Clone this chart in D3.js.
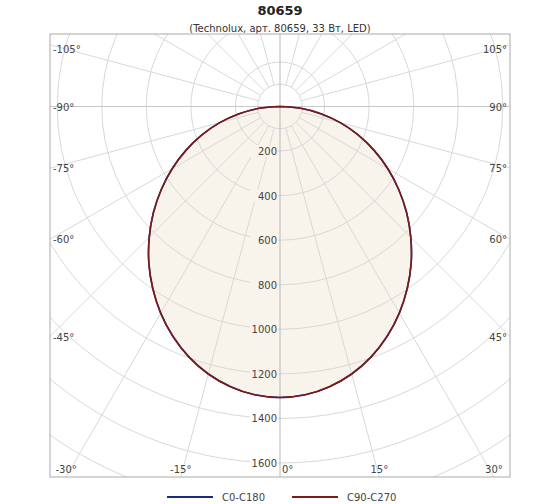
<!DOCTYPE html>
<html>
<head>
<meta charset="utf-8">
<script src="https://cdn.jsdelivr.net/npm/d3@7"></script>
<style>
  body { margin: 0; background: #fff; }
  text { font-family: "DejaVu Sans", sans-serif; fill: #444; }
</style>
</head>
<body>
<div id="chart"></div>
<script>
const angles = [0, 5, 10, 15, 20, 25, 30, 35, 40, 45, 50, 55, 60, 65, 70, 75, 80, 85, 90];
const c0c180 = [1306, 1299, 1277, 1243, 1196, 1138, 1071, 996, 916, 830, 742, 651, 559, 466, 373, 280, 186, 93, 0];
const c90c270 = [1306, 1299, 1277, 1243, 1196, 1138, 1071, 996, 916, 830, 742, 651, 559, 466, 373, 280, 186, 93, 0];
const radialTicks = [200, 400, 600, 800, 1000, 1200, 1400, 1600];
const gridCircles = [100, 200, 400, 600, 800, 1000, 1200, 1400, 1600, 1800, 2000, 2200, 2400];
const angleTicks = [-105, -90, -75, -60, -45, -30, -15, 0, 15, 30, 45, 60, 75, 90, 105];
const seriesNames = ["C0-C180", "C90-C270"];
const seriesColors = ["#1f2a7a", "#7a1a1a"];

const W = 560, H = 504;
const box = { left: 50, right: 510, top: 34, bottom: 477 };
const cx = 280, cy = 106.5;

const r = d3.scaleLinear().domain([0, 1600]).range([0, 356.5]);

const svg = d3.select("#chart").append("svg").attr("width", W).attr("height", H);

svg.append("text").attr("x", cx).attr("y", 15).attr("text-anchor", "middle")
  .style("font-weight", "bold").style("font-size", "13px").style("fill", "#222").text("80659");
svg.append("text").attr("x", cx).attr("y", 32).attr("text-anchor", "middle")
  .style("font-size", "10px").style("fill", "#333").text("(Technolux, арт. 80659, 33 Вт, LED)");

svg.append("clipPath").attr("id", "clip").append("rect")
  .attr("x", box.left).attr("y", box.top).attr("width", box.right - box.left).attr("height", box.bottom - box.top);

const g = svg.append("g").attr("clip-path", "url(#clip)");

// polar angle in degrees (0 = down, positive to the right)
const pt = (deg, v) => {
  const a = deg * Math.PI / 180;
  return [cx + Math.sin(a) * r(v), cy + Math.cos(a) * r(v)];
};

const full = (vals) => {
  const pts = [];
  for (let i = angles.length - 1; i >= 0; i--) pts.push(pt(-angles[i], vals[i]));
  for (let i = 1; i < angles.length; i++) pts.push(pt(angles[i], vals[i]));
  return pts;
};
const line = d3.line().curve(d3.curveCatmullRom);

g.append("path").attr("d", line(full(c90c270)) + "Z").attr("fill", "#f8f4ec");

g.selectAll(".grid-circle").data(gridCircles).enter().append("circle")
  .attr("cx", cx).attr("cy", cy).attr("r", d => r(d))
  .attr("fill", "none").attr("stroke", "#d8d8d8").attr("stroke-width", 1);

const spokes = d3.range(0, 360, 15).filter(d => d % 90 !== 0);
g.selectAll(".spoke").data(spokes).enter().append("line")
  .attr("x1", d => pt(d, 100)[0]).attr("y1", d => pt(d, 100)[1])
  .attr("x2", d => pt(d, 3000)[0]).attr("y2", d => pt(d, 3000)[1])
  .attr("stroke", "#d8d8d8");
g.append("line").attr("x1", box.left).attr("x2", box.right).attr("y1", cy).attr("y2", cy).attr("stroke", "#c8c8c8");
g.append("line").attr("x1", cx).attr("x2", cx).attr("y1", box.top).attr("y2", box.bottom).attr("stroke", "#b8b8b8");

[c0c180, c90c270].forEach((vals, i) => {
  g.append("path").attr("d", line(full(vals))).attr("fill", "none")
    .attr("stroke", seriesColors[i]).attr("stroke-width", 1.6);
});

svg.append("rect").attr("x", box.left).attr("y", box.top)
  .attr("width", box.right - box.left).attr("height", box.bottom - box.top)
  .attr("fill", "none").attr("stroke", "#aaa");

// radial labels
radialTicks.forEach(v => {
  const y = cy + r(v);
  const bg = v <= 1200 ? "#f8f4ec" : "#fff";
  svg.append("rect").attr("x", 250).attr("y", y - 6).attr("width", 28).attr("height", 12).attr("fill", bg);
  svg.append("text").attr("x", 277).attr("y", y + 4).attr("text-anchor", "end")
    .style("font-size", "10px").text(v);
});

// angle labels along the box
angleTicks.forEach(d => {
  const a = d * Math.PI / 180;
  const s = Math.sin(a), c = Math.cos(a);
  let x, y, anchor;
  if (Math.abs(d) >= 45) {
    const t = (d < 0 ? cx - box.left : box.right - cx) / Math.abs(s);
    y = cy + c * t + 4;
    x = d < 0 ? box.left + 3 : box.right - 3;
    anchor = d < 0 ? "start" : "end";
    if (Math.abs(d) === 105) y = cy + c * t + 8;
  } else {
    const t = (box.bottom - cy) / c;
    x = Math.max(box.left + 16, Math.min(box.right - 16, cx + s * t));
    y = box.bottom - 4;
    anchor = "middle";
    if (d === 0) { x = cx + 2; anchor = "start"; }
  }
  svg.append("text").attr("x", x).attr("y", y).attr("text-anchor", anchor)
    .style("font-size", "10px").text(d + "°");
});

// legend
const lx = [167, 292];
seriesNames.forEach((name, i) => {
  svg.append("line").attr("x1", lx[i]).attr("x2", lx[i] + 46).attr("y1", 497).attr("y2", 497)
    .attr("stroke", seriesColors[i]).attr("stroke-width", 2);
  svg.append("text").attr("x", lx[i] + 55).attr("y", 501).style("font-size", "10px").text(name);
});
</script>
</body>
</html>
